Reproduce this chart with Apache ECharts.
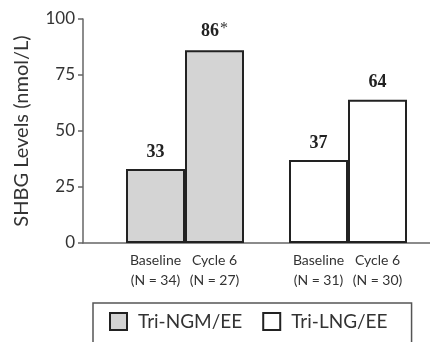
<!DOCTYPE html>
<html><head><meta charset="utf-8">
<script src="https://cdn.jsdelivr.net/npm/echarts@6/dist/echarts.min.js"></script>
<style>html,body{margin:0;padding:0;background:#fff}#c{width:430px;height:342px}</style>
</head><body><div id="c"></div>
<script>
var timepoints = ['Baseline', 'Cycle 6'];
var ngmN = [34, 27];
var lngN = [31, 30];
var ngmValues = [33, 86];
var lngValues = [37, 64];
var ngmLabels = ['33', '86{s|*}'];
var lngLabels = ['37', '64'];
var yTicks = [0, 25, 50, 75, 100];
var seriesNames = ['Tri-NGM/EE', 'Tri-LNG/EE'];

var FONT = 'Lato';
var TXT = '#333';
function cats(ns){ return timepoints.map(function(t,i){ return t + '\n(N = ' + ns[i] + ')'; }); }
var hiddenY = function(idx){ return {type:'value', gridIndex:idx, min:0, max:100, interval:25, show:false}; };
var catX = function(idx, ns){ return {type:'category', gridIndex:idx, data:cats(ns), axisLine:{show:false}, axisTick:{show:false},
  axisLabel:{color:TXT, fontFamily:FONT, fontSize:14, lineHeight:20, margin:7, interval:0}}; };
function barLabel(lbls){ return {show:true, position:'top', distance:8, fontFamily:'Liberation Serif', fontWeight:'bold', fontSize:18, color:'#222',
  formatter:function(p){ return lbls[p.dataIndex]; }, rich:{s:{fontFamily:'Liberation Serif', fontWeight:'normal', fontSize:16, color:'#333', verticalAlign:'top', padding:[0,0,6,1]}}}; }

var chart = echarts.init(document.getElementById('c'), null, {renderer:'canvas'});
chart.setOption({
  animation:false,
  grid:[
    {left:83, right:0, top:19, bottom:99},
    {left:126, width:118, top:19, bottom:99},
    {left:289, width:118, top:19, bottom:99}
  ],
  xAxis:[
    {type:'value', gridIndex:0, min:0, max:1, axisLine:{show:true, lineStyle:{color:'#666', width:1.5}}, axisTick:{show:false}, axisLabel:{show:false}, splitLine:{show:false}},
    catX(1, ngmN),
    catX(2, lngN)
  ],
  yAxis:[
    {type:'value', gridIndex:0, min:0, max:100, interval:25,
     axisLine:{show:true, lineStyle:{color:'#666', width:1.5}},
     axisTick:{show:true, length:5, lineStyle:{color:'#666', width:1.5}},
     axisLabel:{color:TXT, fontFamily:FONT, fontSize:17, margin:8},
     splitLine:{show:false},
     name:'SHBG Levels (nmol/L)', nameLocation:'middle', nameRotate:90, nameGap:51,
     nameTextStyle:{color:TXT, fontFamily:FONT, fontSize:20}},
    hiddenY(1), hiddenY(2)
  ],
  legend:{
    top:303, left:93, orient:'horizontal',
    data:[
      {name:seriesNames[0], itemStyle:{color:'#d4d4d4', borderColor:'#222', borderWidth:2}},
      {name:seriesNames[1], itemStyle:{color:'#fff', borderColor:'#222', borderWidth:2}}
    ],
    icon:'rect', itemWidth:17, itemHeight:17, itemGap:20,
    padding:[9,24,40,16],
    borderColor:'#555', borderWidth:1.5,
    textStyle:{color:TXT, fontFamily:FONT, fontSize:19, padding:[0,0,0,6]}
  },
  series:[
    {name:seriesNames[0], type:'bar', xAxisIndex:1, yAxisIndex:1, data:ngmValues, barWidth:'100%',
     itemStyle:{color:'#d4d4d4', borderColor:'#222', borderWidth:2}, label:barLabel(ngmLabels)},
    {name:seriesNames[1], type:'bar', xAxisIndex:2, yAxisIndex:2, data:lngValues, barWidth:'100%',
     itemStyle:{color:'#fff', borderColor:'#222', borderWidth:2}, label:barLabel(lngLabels)}
  ]
});
</script></body></html>
